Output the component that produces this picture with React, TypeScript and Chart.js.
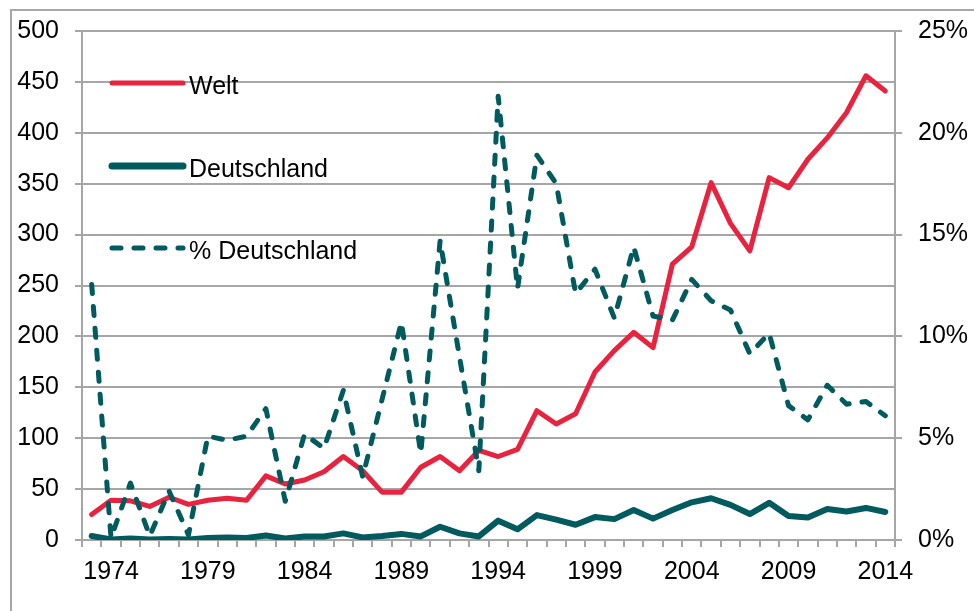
import React, { useEffect, useRef } from "react";
import { Chart, registerables } from "chart.js";

Chart.register(...registerables);

const years: string[] = [];
for (let y = 1973; y <= 2014; y++) years.push(String(y));

const labeledYears = ["1974", "1979", "1984", "1989", "1994", "1999", "2004", "2009", "2014"];

const welt = [25, 39, 38.5, 33, 42, 35, 39, 41, 39, 63, 55, 59, 67, 82, 68, 47, 47, 71.5, 82, 68, 88, 82, 89, 127, 114, 124, 165, 186, 204, 189, 271, 288, 351, 311, 284, 356, 346, 374, 395, 420, 456, 441];

const deutschland = [4, 0.5, 1.5, 0.5, 1, 0.5, 2, 2.5, 2, 4.5, 1.5, 3.5, 3.5, 6.5, 2.5, 4, 6, 3.5, 13, 6.5, 3.5, 19, 10.5, 24.5, 20, 15, 22.5, 20.5, 29.5, 21, 29.5, 37, 41, 34.5, 25.5, 36.5, 23.5, 22, 30.5, 28, 31.5, 27.5];

const pctDeutschland = [12.55, 0.1, 2.8, 0.2, 2.4, 0.25, 5.1, 4.9, 5.1, 6.45, 1.9, 5.2, 4.5, 7.35, 3.1, 6.9, 10.7, 4.25, 14.7, 9.0, 3.4, 21.8, 12.35, 18.9, 17.5, 12.1, 13.3, 10.9, 14.4, 11.0, 10.8, 12.8, 11.75, 11.3, 9.15, 10.15, 6.6, 5.9, 7.6, 6.67, 6.8, 6.1];

const legendItems = ["Welt", "Deutschland", "% Deutschland"];

const RED = "#e8233f";
const TEAL = "#005a5e";
const GRID = "#a6a6a6";
const FONT = "'Liberation Sans', Arial, sans-serif";

export default function App() {
  const ref = useRef<HTMLCanvasElement | null>(null);

  useEffect(() => {
    if (!ref.current) return;
    document.body.style.margin = "0";

    const legendPlugin = {
      id: "customLegend",
      afterDatasetsDraw(chart: any) {
        const ctx = chart.ctx;
        const x0 = chart.chartArea.left + 30;
        const x1 = x0 + 71;
        const rows = [
          { y: 83, color: RED, width: 5, dash: [] as number[] },
          { y: 166, color: TEAL, width: 7, dash: [] as number[] },
          { y: 248, color: TEAL, width: 5, dash: [9, 13] },
        ];
        ctx.save();
        rows.forEach((r, i) => {
          ctx.beginPath();
          ctx.strokeStyle = r.color;
          ctx.lineWidth = r.width;
          ctx.lineCap = "round";
          ctx.setLineDash(r.dash);
          ctx.moveTo(x0, r.y);
          ctx.lineTo(x1, r.y);
          ctx.stroke();
          ctx.setLineDash([]);
          ctx.fillStyle = "#000";
          ctx.font = `25px ${FONT}`;
          ctx.textBaseline = "middle";
          ctx.textAlign = "left";
          ctx.fillText(legendItems[i], x1 + 6, r.y + 4);
        });
        ctx.restore();
      },
    };

    const chart = new Chart(ref.current, {
      type: "line",
      data: {
        labels: years,
        datasets: [
          {
            label: legendItems[0],
            data: welt,
            borderColor: RED,
            borderWidth: 5,
            pointRadius: 0,
            tension: 0,
            yAxisID: "y",
            order: 1,
            borderJoinStyle: "round",
            borderCapStyle: "round",
          },
          {
            label: legendItems[1],
            data: deutschland,
            borderColor: TEAL,
            borderWidth: 6,
            pointRadius: 0,
            tension: 0,
            yAxisID: "y",
            order: 2,
            borderJoinStyle: "round",
            borderCapStyle: "round",
          },
          {
            label: legendItems[2],
            data: pctDeutschland,
            borderColor: TEAL,
            borderWidth: 5,
            borderDash: [9, 13],
            pointRadius: 0,
            tension: 0,
            yAxisID: "y1",
            order: 0,
            borderJoinStyle: "round",
            borderCapStyle: "round",
          },
        ],
      },
      options: {
        animation: false,
        responsive: true,
        maintainAspectRatio: false,
        layout: { padding: { top: 30, left: 0, right: 0, bottom: 0 } },
        plugins: {
          legend: { display: false },
          tooltip: { enabled: false },
        },
        scales: {
          x: {
            type: "category",
            offset: true,
            grid: {
              offset: true,
              drawOnChartArea: false,
              drawTicks: true,
              tickLength: 7,
              color: GRID,
              tickColor: GRID,
              lineWidth: 2,
            },
            border: { color: GRID, width: 2 },
            ticks: {
              autoSkip: false,
              maxRotation: 0,
              minRotation: 0,
              padding: 10,
              color: "#000",
              font: { family: FONT, size: 25 },
              callback: function (this: any, value: any) {
                const lbl = years[value as number];
                return labeledYears.includes(lbl) ? lbl : "";
              },
            },
            afterFit(scale: any) {
              scale.height = 71;
            },
          },
          y: {
            position: "left",
            min: 0,
            max: 500,
            grid: {
              color: GRID,
              lineWidth: 2,
              drawTicks: true,
              tickLength: 7,
              tickColor: GRID,
            },
            border: { color: GRID, width: 2 },
            ticks: {
              stepSize: 50,
              padding: 16,
              color: "#000",
              font: { family: FONT, size: 25 },
            },
            afterFit(scale: any) {
              scale.width = 82;
            },
          },
          y1: {
            position: "right",
            min: 0,
            max: 25,
            grid: {
              drawOnChartArea: false,
              drawTicks: true,
              tickLength: 7,
              tickColor: GRID,
              lineWidth: 2,
            },
            border: { color: GRID, width: 2 },
            ticks: {
              stepSize: 5,
              padding: 16,
              color: "#000",
              font: { family: FONT, size: 25 },
              callback: (v: any) => `${v}%`,
            },
            afterFit(scale: any) {
              scale.width = 79;
            },
          },
        },
      },
      plugins: [legendPlugin],
    });

    return () => chart.destroy();
  }, []);

  return (
    <div style={{ position: "absolute", left: 0, top: 0, width: 974, height: 611, background: "#fff", overflow: "hidden" }}>
      <div
        style={{
          position: "absolute",
          left: 10,
          top: 9,
          width: 1000,
          height: 1000,
          border: "2px solid #a6a6a6",
          boxSizing: "border-box",
        }}
      />
      <div style={{ position: "absolute", left: 0, top: 0, width: 974, height: 611 }}>
        <canvas ref={ref} />
      </div>
    </div>
  );
}
